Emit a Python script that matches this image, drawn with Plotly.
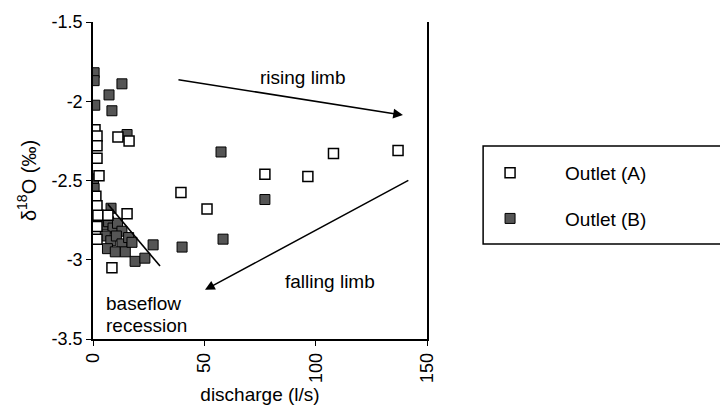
import plotly.graph_objects as go

# Outlet (A): discharge (l/s) and delta-18O (permil)
outlet_a_q = [0.9, 1.8, 1.8, 1.8, 2.7, 11.2, 16.2, 1.3, 1.8, 2.2, 6.7, 15.3,
              1.8, 1.8, 8.5, 39.5, 51.2, 77.2, 96.5, 108, 137]
outlet_a_d18o = [-2.18, -2.22, -2.28, -2.36, -2.47, -2.225, -2.25, -2.60, -2.66,
                 -2.72, -2.72, -2.71, -2.79, -2.87, -3.05, -2.575, -2.68, -2.46,
                 -2.475, -2.33, -2.31]

# Outlet (B)
outlet_b_q = [0.5, 0.5, 13, 7.2, 0.8, 8.5, 15.3, 0.2, 0.5, 1.0, 8.1,
              4.5, 7, 9, 11, 13, 5.5, 8, 10.5, 13, 16, 6.5, 10, 14.5, 17.5,
              27, 18.9, 23.3, 40, 58.4, 77.2, 57.5]
outlet_b_d18o = [-1.82, -1.87, -1.89, -1.96, -2.025, -2.06, -2.21, -2.49, -2.55,
                 -2.61, -2.675, -2.78, -2.76, -2.80, -2.77, -2.82, -2.85, -2.88,
                 -2.85, -2.90, -2.86, -2.93, -2.95, -2.95, -2.89, -2.906, -3.01,
                 -2.99, -2.92, -2.87, -2.62, -2.32]

x_ticks = [0, 50, 100, 150]
x_ticktext = ["0", "50", "100", "150"]
y_ticks = [-3.5, -3, -2.5, -2, -1.5]
y_ticktext = ["-3.5", "-3", "-2.5", "-2", "-1.5"]

# hysteresis arrows and baseflow recession line (data coordinates)
rising_limb = dict(x0=37.7, y0=-1.8625, x1=139.2, y1=-2.0875)
falling_limb = dict(x0=142.3, y0=-2.494, x1=50.3, y1=-3.19)
recession = dict(x0=6.7, y0=-2.65, x1=30.1, y1=-3.04)

FONT = "Liberation Sans, Arial, Helvetica, sans-serif"

fig = go.Figure()
fig.add_trace(go.Scatter(
    x=outlet_b_q, y=outlet_b_d18o, mode="markers", name="Outlet (B)",
    legendgroup="b", legendrank=2,
    marker=dict(symbol="square", size=10, color="#555555",
                line=dict(color="black", width=1)),
))
fig.add_trace(go.Scatter(
    x=outlet_a_q, y=outlet_a_d18o, mode="markers", name="Outlet (A)",
    legendgroup="a", legendrank=1,
    marker=dict(symbol="square", size=10, color="white",
                line=dict(color="black", width=1.5)),
))

fig.add_shape(type="line", xref="x", yref="y",
              x0=recession["x0"], y0=recession["y0"],
              x1=recession["x1"], y1=recession["y1"],
              line=dict(color="black", width=1.6))

for arr in (rising_limb, falling_limb):
    fig.add_annotation(x=arr["x1"], y=arr["y1"], ax=arr["x0"], ay=arr["y0"],
                       xref="x", yref="y", axref="x", ayref="y",
                       showarrow=True, arrowhead=2, arrowsize=1.3,
                       arrowwidth=1.5, arrowcolor="black", text="")

txt = dict(size=19, color="black", family=FONT)
fig.add_annotation(x=94.3, y=-1.85, xref="x", yref="y", text="rising limb",
                   showarrow=False, font=txt)
fig.add_annotation(x=106.4, y=-3.14, xref="x", yref="y", text="falling limb",
                   showarrow=False, font=txt)
fig.add_annotation(x=5.0, y=-3.275, xref="x", yref="y", xanchor="left",
                   text="baseflow", showarrow=False, font=txt)
fig.add_annotation(x=5.0, y=-3.4125, xref="x", yref="y", xanchor="left",
                   text="recession", showarrow=False, font=txt)

# legend frame (runs off the right edge)
fig.add_shape(type="rect", xref="paper", yref="paper",
              x0=1.168, x1=2.3, y0=0.30, y1=0.609,
              line=dict(color="black", width=1.5), fillcolor="rgba(0,0,0,0)")

fig.update_layout(
    width=720, height=416,
    margin=dict(l=93, r=293, t=19, b=77),
    paper_bgcolor="white", plot_bgcolor="white",
    font=dict(family=FONT, size=18, color="black"),
    showlegend=True,
    legend=dict(x=1.084, y=0.584, xanchor="left", yanchor="top",
                bgcolor="rgba(0,0,0,0)", borderwidth=0,
                font=dict(size=19, family=FONT, color="black"),
                itemwidth=100, tracegroupgap=18, traceorder="grouped"),
)
fig.update_xaxes(range=[0, 150], tickvals=x_ticks, ticktext=x_ticktext,
                 tickangle=-90, ticks="outside", ticklen=5, tickwidth=1.2,
                 tickcolor="black", tickfont=dict(size=18, color="black"),
                 showline=True, linecolor="black", linewidth=1.5,
                 mirror=False, showgrid=False, zeroline=False,
                 title=dict(text="discharge (l/s)",
                            font=dict(size=19, color="black"), standoff=6))
fig.update_yaxes(range=[-3.5, -1.5], tickvals=y_ticks, ticktext=y_ticktext,
                 ticks="outside", ticklen=5, tickwidth=1.2,
                 tickcolor="black", tickfont=dict(size=18, color="black"),
                 showline=True, linecolor="black", linewidth=1.5,
                 mirror=True, showgrid=False, zeroline=False,
                 title=dict(text="δ<sup>18</sup>O (‰)",
                            font=dict(size=20, color="black"), standoff=10))

fig.write_html("out.html")
